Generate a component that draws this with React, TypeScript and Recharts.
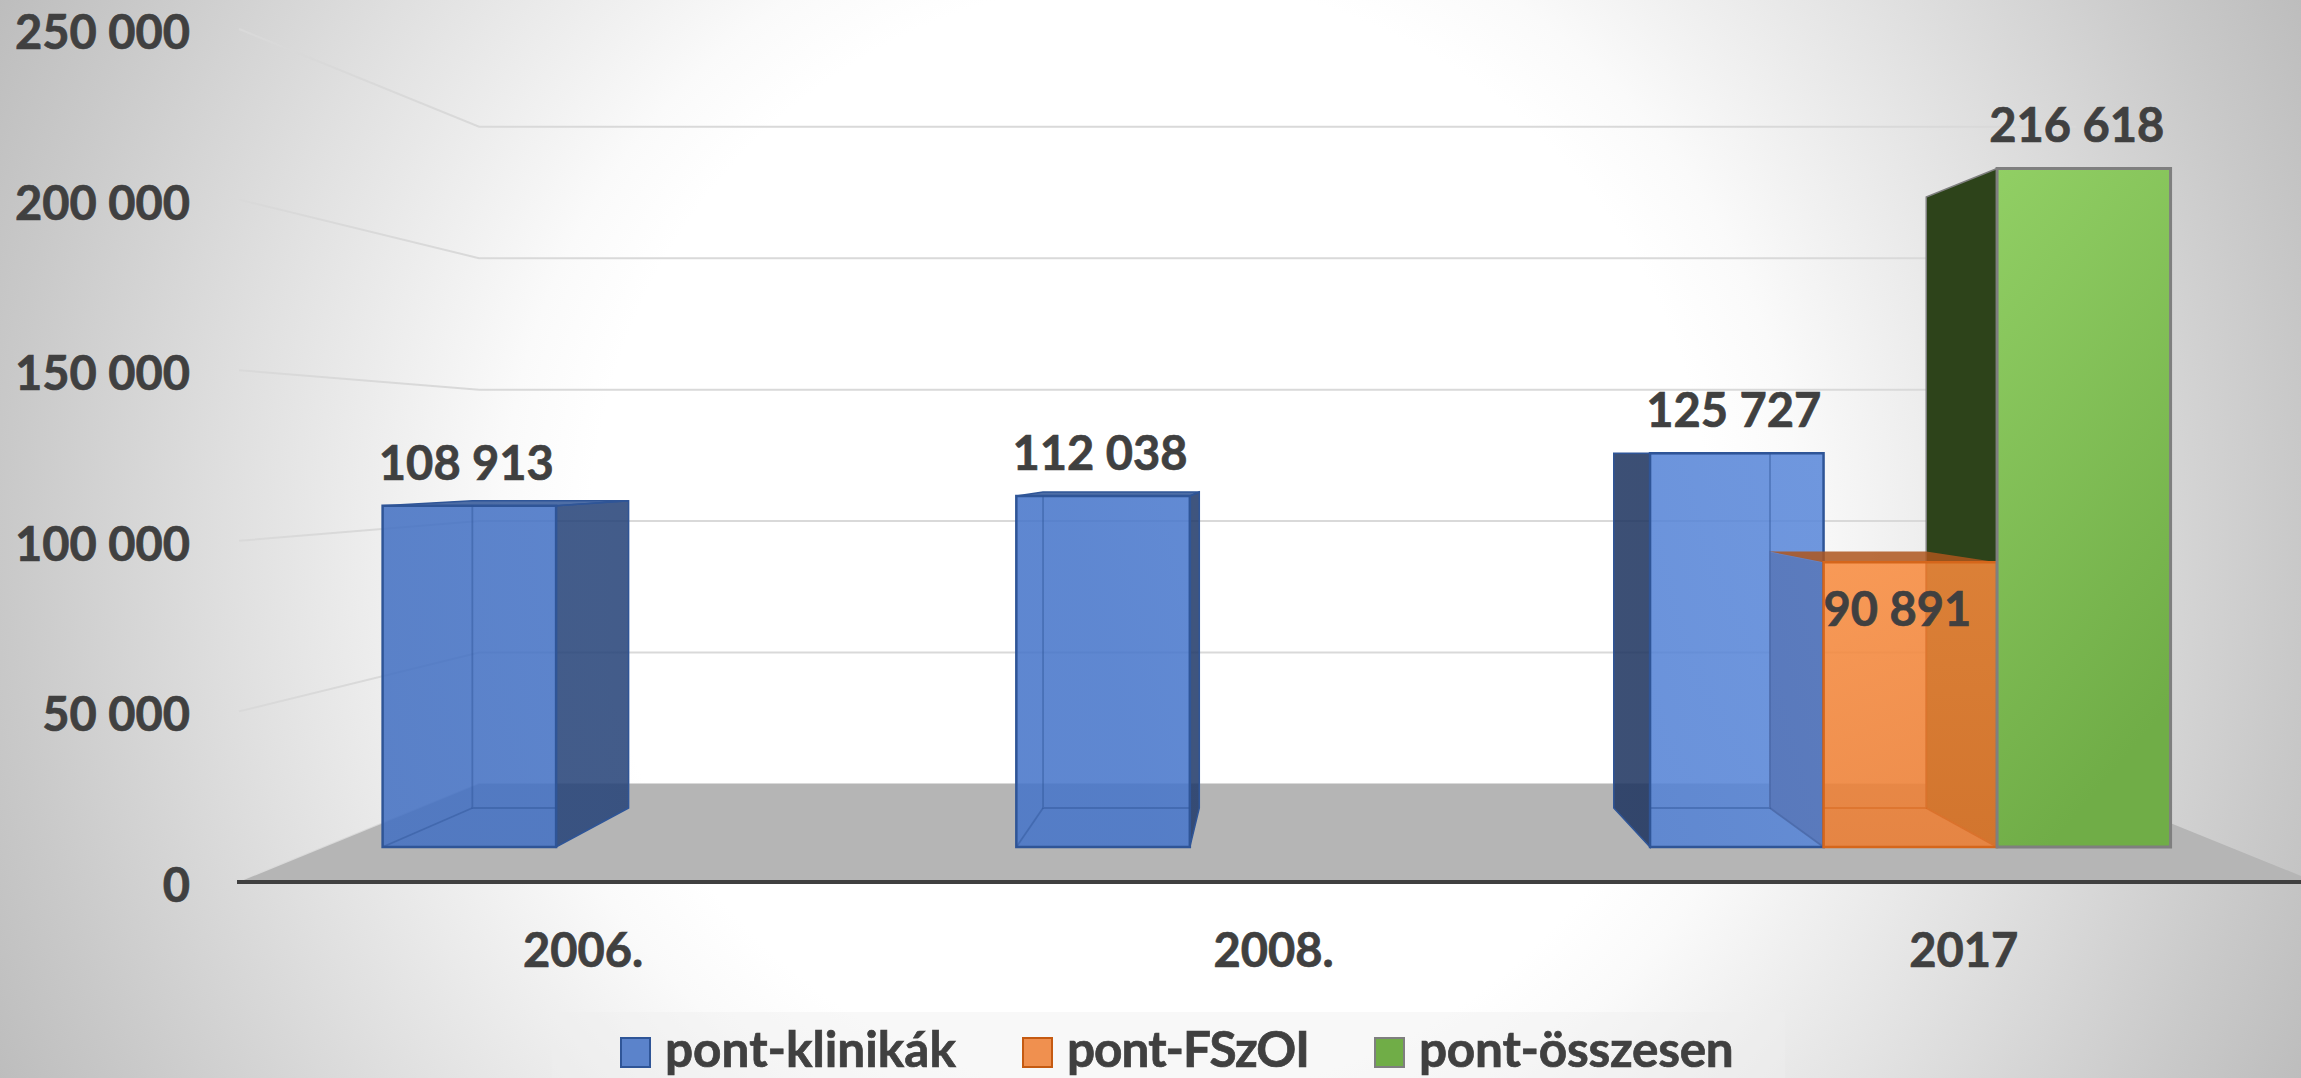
import React from 'react';
import { BarChart, Bar, XAxis, YAxis, CartesianGrid, Legend, LabelList, Customized } from 'recharts';

const categories = ['2006.', '2008.', '2017'];
const klinikak = [108913, 112038, 125727];
const fszoi = [null, null, 90891];
const osszesen = [null, null, 216618];
const yTicks = [0, 50000, 100000, 150000, 200000, 250000];

const data = categories.map((c, i) => ({ name: c, klinikak: klinikak[i], fszoi: fszoi[i], osszesen: osszesen[i] }));

const FONT = 'Lato, sans-serif';
const TEXT = '#404040';
const FONT_SIZE = 47;

// fake 3D: everything is projected towards one vanishing point
const VX = 1285;
const VY = 455;
const FRONT = 0.082;
const BACK = 0.1733;
const WALL = 0.2295;

const proj = (x: number, y: number, t: number) => [x + (VX - x) * t, y + (VY - y) * t];
const pts = (list: number[][]) => list.map(p => p.join(',')).join(' ');
const fmt = (v: number) => String(v).replace(/\B(?=(\d{3})+$)/g, '\u00a0');

const legendItems = [
  { name: 'pont-klinikák', fill: '#5B83CB', stroke: '#2F5597', spacing: 0 },
  { name: 'pont-FSzOI', fill: '#F0904F', stroke: '#C55A11', spacing: -1 },
  { name: 'pont-összesen', fill: '#70AD47', stroke: '#7F7F7F', spacing: -0.25 },
];

function corners(x: number, y: number, width: number, height: number) {
  const [l, r, b] = [x, x + width, y + height];
  return {
    right: r,
    f: [proj(l, y, FRONT), proj(r, y, FRONT), proj(r, b, FRONT), proj(l, b, FRONT)],
    k: [proj(l, y, BACK), proj(r, y, BACK), proj(r, b, BACK), proj(l, b, BACK)],
  };
}

// back layer: the side turned to the vanishing point, it has to stay under every front face
function BoxSide(props: any) {
  const { x, y, width, height, value, side, opacity, stroke } = props;
  if (value == null || !height) return null;
  const { right, f, k } = corners(x, y, width, height);
  const quad = right < VX ? [f[1], k[1], k[2], f[2]] : [f[0], k[0], k[3], f[3]];
  return <polygon points={pts(quad)} fill={side} fillOpacity={opacity} stroke={stroke} strokeWidth={1.5} />;
}

function BoxFront(props: any) {
  const { x, y, width, height, value, front, top, topStroke, stroke, alpha, strokeWidth, innerOpacity } = props;
  if (value == null || !height) return null;
  const { f, k } = corners(x, y, width, height);
  const hasTop = k[0][1] < f[0][1] - 0.5;
  const clipId = `front-${value}`;
  return (
    <g>
      {hasTop && <polygon points={pts([f[0], f[1], k[1], k[0]])} fill={top} fillOpacity={0.85} stroke={topStroke} strokeWidth={1.5} />}
      <polygon points={pts(f)} fill={front} fillOpacity={alpha} stroke={stroke} strokeWidth={strokeWidth} />
      {innerOpacity > 0 && (
        <g fill="none" stroke={stroke} strokeWidth={1.8} strokeOpacity={innerOpacity} clipPath={`url(#${clipId})`}>
          <clipPath id={clipId}>
            <polygon points={pts(f)} />
          </clipPath>
          <polygon points={pts(k)} />
          <line x1={f[2][0]} y1={f[2][1]} x2={k[2][0]} y2={k[2][1]} />
          <line x1={f[3][0]} y1={f[3][1]} x2={k[3][0]} y2={k[3][1]} />
          <line x1={f[0][0]} y1={f[0][1]} x2={k[0][0]} y2={k[0][1]} />
        </g>
      )}
    </g>
  );
}

const textProps = { fill: TEXT, stroke: TEXT, strokeWidth: 0.7, fontFamily: FONT, fontWeight: 700, fontSize: FONT_SIZE };

// value label sits over the front face of the box
const boxLabel = (dx: number, dy: number) => (props: any) => {
  const { x, y, width, value } = props;
  if (value == null) return null;
  const [cx, cy] = proj(x + width / 2, y, FRONT);
  return (
    <text x={cx + dx} y={cy + dy} textAnchor="middle" {...textProps}>
      {fmt(value)}
    </text>
  );
};

// grid lines run on the left wall and then on the back wall
function WallLine(props: any) {
  const { x1, y1, x2 } = props;
  const from = proj(239, y1, 0);
  const corner = proj(239, y1, WALL);
  const end = proj(x2, y1, WALL);
  return <polyline points={pts([from, corner, end])} fill="none" stroke="#D9D9D9" strokeWidth={2} />;
}

function Floor() {
  return (
    <g>
      <polygon points={pts([[239, 882], [2316, 882], [2074, 784], [479, 784]])} fill="#B5B5B5" />
      <line x1={237} y1={882} x2={243} y2={882} stroke={TEXT} strokeWidth={4} />
    </g>
  );
}

function YTick(props: any) {
  const { y, payload } = props;
  return (
    <text x={190} y={y + 20} textAnchor="end" {...textProps}>
      {fmt(payload.value)}
    </text>
  );
}

function XTick(props: any) {
  const { x, y, payload } = props;
  return (
    <text x={x - 3} y={y + 77} textAnchor="middle" {...textProps}>
      {payload.value}
    </text>
  );
}

function LegendBox() {
  const lefts = [68, 470, 822];
  return (
    <div style={{ position: 'relative', width: 1233, height: 66, background: 'rgba(238,238,238,0.42)' }}>
      {legendItems.map((it, i) => (
        <React.Fragment key={it.name}>
          <div style={{ position: 'absolute', left: lefts[i], top: 25, width: 27, height: 27, background: it.fill, border: `2px solid ${it.stroke}` }} />
          <span
            style={{
              position: 'absolute',
              left: lefts[i] + 45,
              top: 12,
              fontFamily: FONT,
              fontWeight: 700,
              fontSize: 49.5,
              lineHeight: '49px',
              letterSpacing: it.spacing,
              color: TEXT,
              whiteSpace: 'nowrap',
              WebkitTextStroke: `0.7px ${TEXT}`,
            }}
          >
            {it.name}
          </span>
        </React.Fragment>
      ))}
    </div>
  );
}

export default function App() {
  return (
    <div
      style={{
        position: 'absolute',
        left: 0,
        top: 0,
        width: 2301,
        height: 1078,
        overflow: 'hidden',
        background: 'radial-gradient(circle 1272px at 1150px 539px, #fff 44%, #fafafa 51%, #e0e0e0 72%, #c9c9c9 90%, #bdbdbd 100%)',
      }}
    >
      <BarChart
        width={2312}
        height={1078}
        data={data}
        margin={{ top: 29, right: 0, bottom: 0, left: 0 }}
        barCategoryGap={61}
        barGap={0}
      >
        <defs>
          <linearGradient id="blueFront" gradientUnits="userSpaceOnUse" x1="381" y1="847" x2="1825" y2="455">
            <stop offset="0" stopColor="#4370C2" />
            <stop offset="0.5" stopColor="#4675CA" />
            <stop offset="1" stopColor="#5A88DA" />
          </linearGradient>
          <linearGradient id="blueSide" gradientUnits="userSpaceOnUse" x1="600" y1="0" x2="1650" y2="0">
            <stop offset="0" stopColor="#274479" />
            <stop offset="1" stopColor="#1F3560" />
          </linearGradient>
          <linearGradient id="orangeFront" x1="0" y1="0" x2="0" y2="1">
            <stop offset="0" stopColor="#F88A3C" />
            <stop offset="1" stopColor="#ED7D31" />
          </linearGradient>
          <linearGradient id="greenFront" x1="0" y1="0" x2="0.3" y2="1">
            <stop offset="0" stopColor="#91CF64" />
            <stop offset="1" stopColor="#70AD47" />
          </linearGradient>
        </defs>
        <Customized component={Floor} />
        <CartesianGrid vertical={false} horizontal={WallLine} syncWithTicks />
        <XAxis dataKey="name" height={130} axisLine={{ stroke: TEXT, strokeWidth: 4 }} tickLine={false} tick={XTick} />
        {/* same axis again, only so the side faces get their own bar group below the fronts */}
        <XAxis xAxisId="sides" dataKey="name" hide />
        <YAxis width={241} domain={[0, 250000]} ticks={yTicks} interval={0} axisLine={false} tickLine={false} tick={YTick} />
        <Legend verticalAlign="bottom" content={LegendBox} wrapperStyle={{ left: 552, bottom: 0, width: 1233, height: 66 }} />

        <Bar xAxisId="sides" dataKey="klinikak" isAnimationActive={false} shape={(p: any) => <BoxSide {...p} side="url(#blueSide)" opacity={0.87} stroke="#2F5597" />} />
        <Bar xAxisId="sides" dataKey="fszoi" isAnimationActive={false} shape={(p: any) => <BoxSide {...p} side="#6B2F0A" opacity={1} stroke="#D5661B" />} />
        <Bar xAxisId="sides" dataKey="osszesen" isAnimationActive={false} shape={(p: any) => <BoxSide {...p} side="#2D431A" opacity={1} stroke="#7F7F7F" />} />

        <Bar
          dataKey="klinikak"
          isAnimationActive={false}
          shape={(p: any) => <BoxFront {...p} front="url(#blueFront)" top="#2F5597" topStroke="#2F5597" stroke="#2F5597" alpha={0.865} strokeWidth={2.5} innerOpacity={0.45} />}
        >
          <LabelList dataKey="klinikak" content={boxLabel(-3, -26)} />
        </Bar>
        <Bar
          dataKey="fszoi"
          isAnimationActive={false}
          shape={(p: any) => <BoxFront {...p} front="url(#orangeFront)" top="#AE561D" topStroke="none" stroke="#D5661B" alpha={0.86} strokeWidth={2.5} innerOpacity={0.5} />}
        >
          <LabelList dataKey="fszoi" content={boxLabel(-13, 64)} />
        </Bar>
        <Bar
          dataKey="osszesen"
          isAnimationActive={false}
          shape={(p: any) => <BoxFront {...p} front="url(#greenFront)" top="#70AD47" topStroke="#7F7F7F" stroke="#7F7F7F" alpha={1} strokeWidth={3} innerOpacity={0} />}
        >
          <LabelList dataKey="osszesen" content={boxLabel(-7, -26)} />
        </Bar>
      </BarChart>
    </div>
  );
}
